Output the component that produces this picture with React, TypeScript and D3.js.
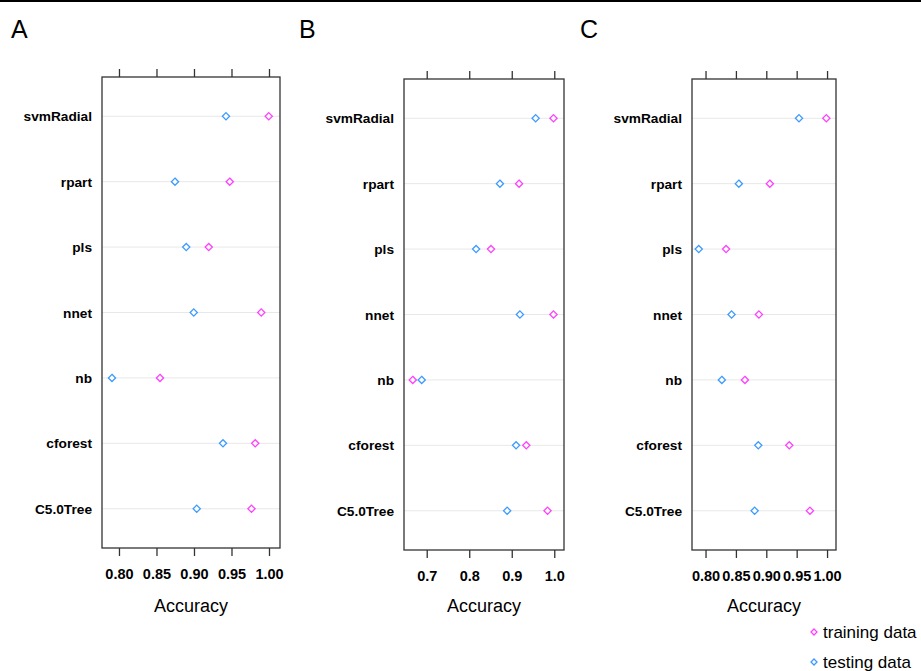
import React from "react";
import * as d3 from "d3";

const categories = ["svmRadial", "rpart", "pls", "nnet", "nb", "cforest", "C5.0Tree"];

const trainA = [0.999, 0.947, 0.919, 0.989, 0.854, 0.981, 0.976];
const testA = [0.942, 0.874, 0.889, 0.899, 0.790, 0.938, 0.903];

const trainB = [0.997, 0.916, 0.850, 0.997, 0.666, 0.933, 0.983];
const testB = [0.955, 0.871, 0.815, 0.918, 0.687, 0.909, 0.888];

const trainC = [0.998, 0.905, 0.833, 0.887, 0.864, 0.937, 0.971];
const testC = [0.953, 0.854, 0.788, 0.842, 0.826, 0.886, 0.880];

const ticksA = [0.8, 0.85, 0.9, 0.95, 1.0];
const ticksB = [0.7, 0.8, 0.9, 1.0];
const ticksC = [0.8, 0.85, 0.9, 0.95, 1.0];

const seriesNames = ["training data", "testing data"];
const COL_TRAIN = "#ff40ff";
const COL_TEST = "#3d9bff";

type PanelSpec = {
  letter: string;
  letterX: number;
  x0: number;
  x1: number;
  y0: number;
  y1: number;
  domain: [number, number];
  ticks: number[];
  fmt: string;
  train: number[];
  test: number[];
};

const panels: PanelSpec[] = [
  { letter: "A", letterX: 11, x0: 102, x1: 280, y0: 77, y1: 548, domain: [0.7767, 1.014], ticks: ticksA, fmt: ".2f", train: trainA, test: testA },
  { letter: "B", letterX: 299, x0: 404, x1: 564, y0: 79, y1: 550, domain: [0.6454, 1.0217], ticks: ticksB, fmt: ".1f", train: trainB, test: testB },
  { letter: "C", letterX: 580, x0: 692, x1: 836, y0: 79, y1: 550, domain: [0.7769, 1.0139], ticks: ticksC, fmt: ".2f", train: trainC, test: testC },
];

const FONT = "'Liberation Sans', Arial, Helvetica, sans-serif";

function diamond(cx: number, cy: number, r: number) {
  return `M${cx},${cy - r}L${cx + r},${cy}L${cx},${cy + r}L${cx - r},${cy}Z`;
}

function Panel({ p }: { p: PanelSpec }) {
  const x = d3.scaleLinear().domain(p.domain).range([p.x0, p.x1]);
  const y = d3.scalePoint<string>().domain(categories).range([p.y0, p.y1]).padding(0.6);
  const f = d3.format(p.fmt);
  const cx = (p.x0 + p.x1) / 2;
  return (
    <g>
      <text x={p.letterX} y={38} fontSize={25} fontFamily={FONT} fill="#000">{p.letter}</text>
      {categories.map((c) => (
        <line key={"g" + c} x1={p.x0} x2={p.x1} y1={y(c)} y2={y(c)} stroke="#e8e8e8" strokeWidth={1} />
      ))}
      {categories.map((c) => (
        <text key={"l" + c} x={p.x0 - 10} y={(y(c) as number) + 5} textAnchor="end" fontSize={13.7} fontWeight="bold" fontFamily={FONT} fill="#000">{c}</text>
      ))}
      <rect x={p.x0} y={p.y0} width={p.x1 - p.x0} height={p.y1 - p.y0} fill="none" stroke="#333" strokeWidth={1.3} />
      {p.ticks.map((t) => (
        <g key={"t" + t}>
          <line x1={x(t)} x2={x(t)} y1={p.y0} y2={p.y0 - 8} stroke="#333" strokeWidth={1.3} />
          <line x1={x(t)} x2={x(t)} y1={p.y1} y2={p.y1 + 8} stroke="#333" strokeWidth={1.3} />
          <text x={x(t)} y={p.y1 + 31} textAnchor="middle" fontSize={14.5} fontWeight="bold" fontFamily={FONT} fill="#000">{f(t)}</text>
        </g>
      ))}
      <text x={cx} y={612} textAnchor="middle" fontSize={18} fontFamily={FONT} fill="#000">Accuracy</text>
      {categories.map((c, i) => (
        <g key={"p" + c}>
          <path d={diamond(x(p.test[i]), y(c) as number, 3.6)} fill="#fff" stroke={COL_TEST} strokeWidth={1.3} />
          <path d={diamond(x(p.train[i]), y(c) as number, 3.6)} fill="#fff" stroke={COL_TRAIN} strokeWidth={1.3} />
        </g>
      ))}
    </g>
  );
}

export default function App() {
  return (
    <svg width={921} height={671} style={{ position: "absolute", left: 0, top: 0, background: "#fff" }}>
      <rect x={0} y={0} width={921} height={671} fill="#fff" />
      <line x1={0} x2={921} y1={1} y2={1} stroke="#000" strokeWidth={2} />
      {panels.map((p) => (
        <Panel key={p.letter} p={p} />
      ))}
      {seriesNames.map((s, i) => (
        <g key={s}>
          <path d={diamond(814, 632 + i * 30, 3)} fill="#fff" stroke={i === 0 ? COL_TRAIN : COL_TEST} strokeWidth={1.3} />
          <text x={823} y={638 + i * 30} fontSize={17} fontFamily={FONT} fill="#000">{s}</text>
        </g>
      ))}
    </svg>
  );
}
